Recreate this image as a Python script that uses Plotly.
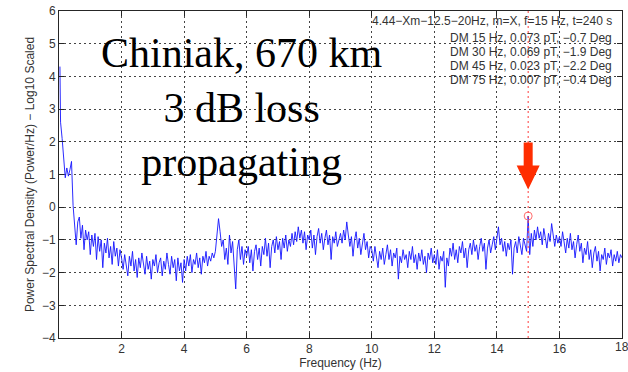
import plotly.graph_objects as go

# ---------------- data ----------------
freq_step = 0.05  # Hz, spectral bin spacing

psd_0_2 = [4.3, 2.6, 2.1, 1.5, 0.9, 1.2, 0.95, 1.15, 1.4, 0.05,
           -0.55, -1.15, -0.45, -0.3, -0.95, -0.55, -1.3, -0.7, -1.0, -0.75,
           -1.45, -0.85, -1.2, -0.8, -1.6, -0.9, -1.35, -1.0, -1.85, -1.1,
           -1.4, -0.95, -1.55, -1.2, -1.75, -1.05, -1.5, -1.25, -1.8, -1.3]
psd_2_4 = [-1.55, -1.9, -1.45, -1.75, -2.1, -1.5, -1.8, -1.35, -1.95, -1.6,
           -2.15, -1.55, -1.85, -1.4, -1.7, -2.05, -1.5, -1.9, -1.65, -2.2,
           -1.6, -1.8, -1.45, -2.0, -1.7, -1.55, -2.1, -1.65, -1.9, -1.4,
           -1.75, -2.05, -1.5, -1.85, -1.6, -2.25, -1.55, -1.95, -1.7, -2.3]
psd_4_6 = [-1.6, -1.95, -1.5, -1.8, -1.45, -2.0, -1.6, -1.75, -1.4, -1.85,
           -1.55, -2.05, -1.5, -1.7, -1.35, -1.8, -1.5, -1.65, -1.4, -1.55,
           -1.35, -0.9, -0.35, -0.75, -1.2, -1.0, -1.6, -1.25, -1.75, -0.85,
           -1.4, -1.05, -1.9, -2.5, -1.3, -1.0, -1.6, -1.2, -1.75, -1.3]
psd_6_8 = [-1.5, -1.2, -1.7, -1.3, -1.95, -1.35, -1.15, -1.6, -1.25, -1.8,
           -1.2, -1.45, -0.95, -1.5, -1.1, -1.85, -1.2, -1.0, -1.4, -0.9,
           -1.3, -1.05, -1.6, -0.95, -1.25, -0.85, -1.35, -1.0, -1.2, -0.8,
           -1.15, -0.75, -1.05, -0.6, -0.95, -0.7, -1.1, -0.75, -1.3, -0.85]
psd_8_10 = [-1.0, -0.7, -1.25, -0.85, -1.45, -0.9, -0.65, -1.1, -0.8, -1.3,
            -0.95, -0.7, -1.15, -0.85, -1.6, -0.9, -1.1, -0.75, -1.2, -0.95,
            -0.8, -1.1, -0.7, -1.0, -0.45, -0.85, -1.2, -0.9, -1.5, -1.0,
            -0.75, -1.25, -0.95, -1.45, -1.1, -0.8, -1.3, -1.05, -1.55, -1.2]
psd_10_12 = [-1.3, -1.65, -1.2, -1.5, -1.85, -1.35, -1.6, -1.25, -1.75, -1.45,
             -1.15, -1.6, -1.3, -1.8, -1.4, -1.55, -1.25, -2.2, -1.5, -1.7,
             -1.3, -1.6, -1.45, -1.85, -1.35, -1.6, -1.2, -1.7, -1.45, -1.9,
             -1.4, -1.65, -1.3, -1.75, -1.5, -2.0, -1.4, -1.6, -1.25, -1.7]
psd_12_14 = [-1.45, -1.75, -1.3, -1.9, -1.5, -1.65, -1.35, -2.45, -1.55, -1.8,
             -1.25, -1.5, -1.1, -1.6, -1.3, -1.7, -1.2, -1.4, -1.05, -1.55,
             -1.25, -1.85, -1.3, -1.1, -1.45, -1.0, -1.35, -1.15, -1.6, -1.2,
             -0.95, -1.35, -1.1, -1.9, -1.25, -1.0, -1.4, -1.15, -0.9, -1.3]
psd_14_16 = [-1.0, -0.6, -1.15, -0.95, -1.35, -1.05, -1.5, -1.1, -1.3, -1.0,
             -2.05, -1.25, -1.05, -1.4, -0.9, -1.2, -1.45, -0.95, -1.15, -1.35,
             -0.27, -1.45, -0.8, -1.2, -0.7, -1.0, -0.6, -0.95, -0.75, -1.15,
             -0.65, -0.9, -1.25, -0.8, -1.05, -0.5, -0.95, -1.2, -0.85, -1.1]
psd_16_18 = [-0.9, -1.2, -0.75, -1.1, -1.4, -0.95, -1.25, -0.8, -1.3, -1.05,
             -1.55, -1.15, -0.85, -1.35, -1.1, -1.7, -1.25, -1.45, -1.05, -1.6,
             -1.3, -1.85, -1.4, -1.2, -1.65, -1.35, -1.95, -1.45, -1.6, -1.25,
             -1.75, -1.4, -1.55, -1.3, -1.8, -1.45, -1.65, -1.35, -1.7, -1.45,
             -1.55]

marker_freq = [15.0]
marker_val = [-0.27]
arrow_tip_val = 0.54

x_ticks = [2, 4, 6, 8, 10, 12, 14, 16]
x_edge_tick = 18
y_ticks = [-4, -3, -2, -1, 0, 1, 2, 3, 4, 5, 6]

info_lines = [
    "4.44\u2212Xm\u221212.5\u221220Hz, m=X, f=15 Hz, t=240 s",
    "DM 15 Hz, 0.073 pT, \u22120.7 Deg",
    "DM 30 Hz, 0.069 pT, \u22121.9 Deg",
    "DM 45 Hz, 0.023 pT, \u22122.2 Deg",
    "DM 75 Hz, 0.007 pT, \u22120.4 Deg",
]
big_text = "Chiniak, 670 km<br>3 dB loss<br>propagating"

# ---------------- build ----------------
psd = (psd_0_2 + psd_2_4 + psd_4_6 + psd_6_8 + psd_8_10 + psd_10_12
       + psd_12_14 + psd_14_16 + psd_16_18)
freqs = [round(i * freq_step, 4) for i in range(len(psd))]
freqs[0] = 0.03

W, H = 628, 372
ml, mr, mt, mb = 59, 6, 11, 34
FONT = "Liberation Sans"
TXT = "#333333"

fig = go.Figure()
fig.add_trace(go.Scatter(x=freqs, y=psd, mode="lines",
                         line=dict(color="rgb(20,20,255)", width=0.9),
                         hoverinfo="skip", showlegend=False))
fig.add_trace(go.Scatter(x=marker_freq, y=marker_val, mode="markers",
                         marker=dict(symbol="circle-open", size=8,
                                     color="rgb(255,110,110)", line=dict(width=1)),
                         showlegend=False))

fig.add_shape(type="line", xref="x", yref="paper", x0=15, x1=15, y0=0, y1=1,
              line=dict(color="rgb(255,60,60)", width=1, dash="2px,3px"))
# red arrow
fig.add_shape(type="path", xref="x", yref="y", xsizemode="pixel", ysizemode="pixel",
              xanchor=15, yanchor=arrow_tip_val,
              path="M -4.5,47 L 4.5,47 L 4.5,24 L 11.5,24 L 0,0 L -11.5,24 L -4.5,24 Z",
              fillcolor="rgb(255,45,0)", line=dict(width=0))

axis_common = dict(showline=True, linecolor="#262626", linewidth=1, mirror="ticks",
                   ticks="inside", ticklen=5, tickcolor="#262626",
                   showgrid=True, gridcolor="#444444", gridwidth=1, griddash="2px,3px",
                   zeroline=False, tickfont=dict(family=FONT, size=12, color=TXT))

fig.update_xaxes(range=[0, 18], tickvals=x_ticks + [x_edge_tick],
                 ticktext=[str(v) for v in x_ticks] + [""],
                 title=dict(text="Frequency (Hz)", font=dict(family=FONT, size=12, color=TXT),
                            standoff=3),
                 **axis_common)
fig.update_yaxes(range=[-4, 6], tickvals=y_ticks,
                 title=dict(text="Power Spectral Density (Power/Hz) \u2212 Log10 Scaled",
                            font=dict(family=FONT, size=12, color=TXT), standoff=4),
                 **axis_common)

def py(pix):
    return (H - mb - pix) / (H - mt - mb)

def px(pix):
    return (pix - ml) / (W - ml - mr)

# "18" label at the right edge of the axis
fig.add_annotation(text=str(x_edge_tick), xref="x", yref="paper", x=x_edge_tick, y=py(347),
                   xanchor="center", yanchor="middle", showarrow=False,
                   font=dict(family=FONT, size=12, color=TXT))

info_y = [21, 38, 52, 66, 80]
for t, yy in zip(info_lines, info_y):
    fig.add_annotation(text=t, xref="paper", yref="paper", x=px(614), y=py(yy),
                       xanchor="right", yanchor="middle", showarrow=False,
                       font=dict(family=FONT, size=12, color=TXT))

fig.add_annotation(text=big_text, xref="paper", yref="paper", x=px(241), y=py(107),
                   xanchor="center", yanchor="middle", showarrow=False, align="center",
                   font=dict(family="Liberation Serif", size=42, color="black"))

fig.update_layout(width=W, height=H, margin=dict(l=ml, r=mr, t=mt, b=mb, autoexpand=False),
                  plot_bgcolor="white", paper_bgcolor="white", showlegend=False)

fig.write_html("out.html")
